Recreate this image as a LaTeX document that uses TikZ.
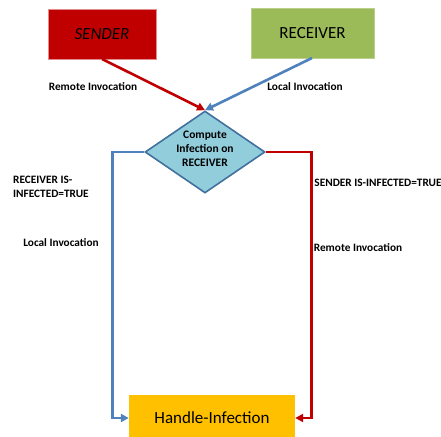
\documentclass[tikz,border=0pt]{standalone}
\usepackage{fontspec}
\setmainfont{Carlito}
\usetikzlibrary{shapes.geometric,arrows.meta}

\definecolor{sendred}{HTML}{C00000}
\definecolor{recvgreen}{HTML}{9BBB59}
\definecolor{linkblue}{HTML}{4F81BD}
\definecolor{decfill}{HTML}{92CDDC}
\definecolor{decline}{HTML}{41719C}
\definecolor{handorange}{HTML}{FFC000}

\tikzset{
  box/.style={rectangle, inner sep=0pt, font=\fontsize{17}{20}\selectfont},
  lbl/.style={font=\bfseries\fontsize{11.3}{14}\selectfont, inner sep=0pt},
  conn/.style={line width=2.6pt, -{Triangle[length=8pt,width=8pt]}},
}

\begin{document}
\begin{tikzpicture}[x=1pt,y=-1pt]
\useasboundingbox (0,0) rectangle (441,436);
\clip (0,0) rectangle (441,436);

% top boxes
\node[box, fill=sendred, draw=sendred!45, line width=1pt,
      minimum width=108pt, minimum height=49pt] (snd) at (102,34.5) {\itshape SENDER};
\node[box, fill=recvgreen, draw=recvgreen!70, line width=0.6pt,
      minimum width=123pt, minimum height=50pt] (rcv) at (312.5,33) {RECEIVER};

% decision
\node[diamond, fill=decfill, draw=decline, line width=1.6pt, inner sep=0pt,
      minimum width=120pt, minimum height=82pt] (cmp) at (205,152) {};
\node[align=center, font=\bfseries\fontsize{11.5}{14}\selectfont, inner sep=0pt]
      (cmptxt) at (205,149) {Compute\\Infection on\\RECEIVER};

% result box
\node[box, fill=handorange, minimum width=166pt, minimum height=46pt] (hnd) at (212,418) {Handle-Infection};

% connectors
\draw[conn, sendred] (102,59) -- (cmp.north);
\draw[conn, linkblue] (312,58) -- (cmp.north);
\draw[conn, linkblue] (cmp.west) -- ++(-32,0) coordinate (lc) |- (hnd.west);
\draw[conn, sendred] (cmp.east) -- ++(45.5,0) coordinate (rc) |- (hnd.east);

% labels
\node[lbl] (l1) at (93,87) {Remote Invocation};
\node[lbl] (l2) at (305,87) {Local Invocation};
\node[lbl, anchor=west, align=left] (l3) at (13,187) {RECEIVER IS-\\INFECTED=TRUE};
\node[lbl] (l4) at (61,243) {Local Invocation};
\node[lbl] (l5) at (378,183) {SENDER IS-INFECTED=TRUE};
\node[lbl] (l6) at (358,248) {Remote Invocation};
\end{tikzpicture}
\end{document}
